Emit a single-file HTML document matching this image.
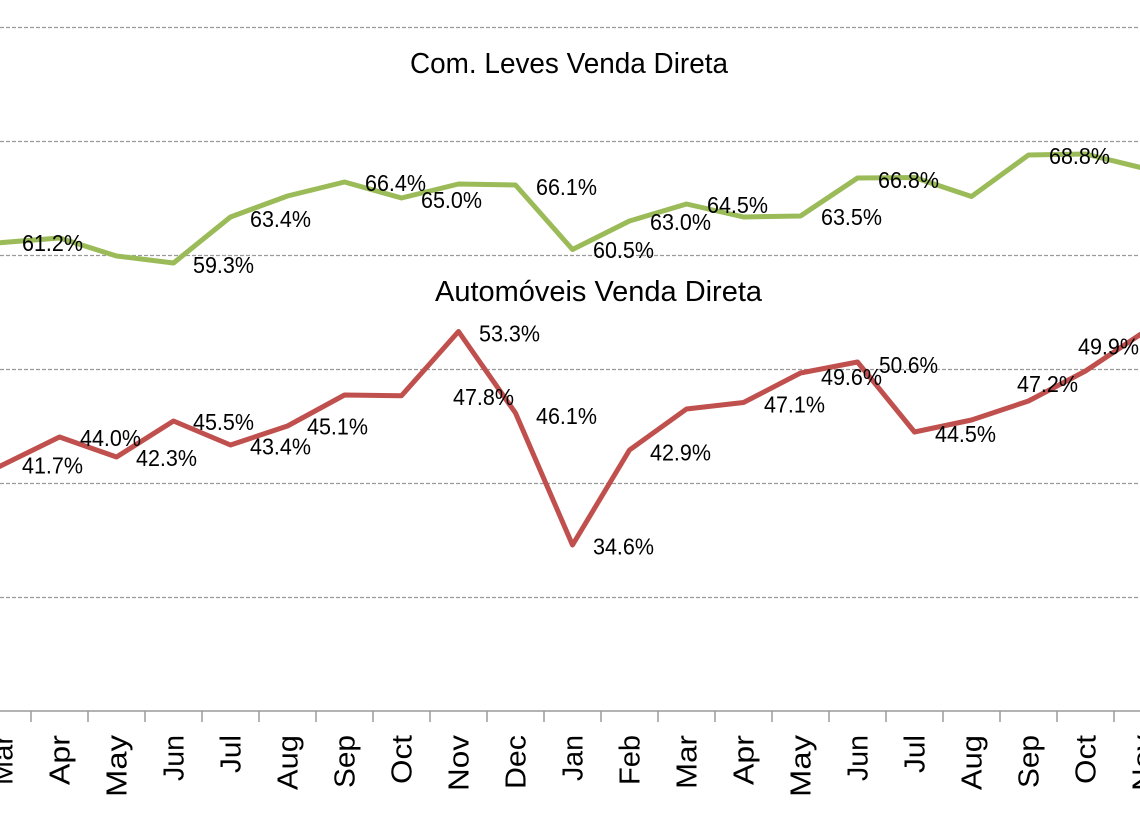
<!DOCTYPE html>
<html>
<head>
<meta charset="utf-8">
<style>
html,body{margin:0;padding:0;background:#fff;}
svg{display:block;}
text{font-family:"Liberation Sans",Arial,sans-serif;fill:#000;}
</style>
</head>
<body>
<svg width="1140" height="815" viewBox="0 0 1140 815" xmlns="http://www.w3.org/2000/svg">
  <rect width="1140" height="815" fill="#fff"/>
  <!-- gridlines -->
  <g stroke="#9a9a9a" stroke-width="1.3" stroke-dasharray="4,2" fill="none">
    <line x1="0" y1="27.5" x2="1140" y2="27.5"/>
    <line x1="0" y1="141.5" x2="1140" y2="141.5"/>
    <line x1="0" y1="255.5" x2="1140" y2="255.5"/>
    <line x1="0" y1="369.5" x2="1140" y2="369.5"/>
    <line x1="0" y1="483.5" x2="1140" y2="483.5"/>
    <line x1="0" y1="597.5" x2="1140" y2="597.5"/>
  </g>
  <!-- axis -->
  <line x1="0" y1="711" x2="1140" y2="711" stroke="#9a9a9a" stroke-width="1.5"/>
  <g stroke="#9a9a9a" stroke-width="1.5">
    <line x1="31" y1="711" x2="31" y2="722"/>
    <line x1="88" y1="711" x2="88" y2="722"/>
    <line x1="145" y1="711" x2="145" y2="722"/>
    <line x1="202" y1="711" x2="202" y2="722"/>
    <line x1="259" y1="711" x2="259" y2="722"/>
    <line x1="316" y1="711" x2="316" y2="722"/>
    <line x1="373" y1="711" x2="373" y2="722"/>
    <line x1="430" y1="711" x2="430" y2="722"/>
    <line x1="487" y1="711" x2="487" y2="722"/>
    <line x1="544" y1="711" x2="544" y2="722"/>
    <line x1="601" y1="711" x2="601" y2="722"/>
    <line x1="658" y1="711" x2="658" y2="722"/>
    <line x1="715" y1="711" x2="715" y2="722"/>
    <line x1="772" y1="711" x2="772" y2="722"/>
    <line x1="829" y1="711" x2="829" y2="722"/>
    <line x1="886" y1="711" x2="886" y2="722"/>
    <line x1="943" y1="711" x2="943" y2="722"/>
    <line x1="1000" y1="711" x2="1000" y2="722"/>
    <line x1="1057" y1="711" x2="1057" y2="722"/>
    <line x1="1114" y1="711" x2="1114" y2="722"/>
  </g>
  <!-- x labels -->
  <g font-size="29" text-anchor="end">
    <text transform="translate(12.5,735) rotate(-90)">Mar</text>
    <text transform="translate(69.5,735) rotate(-90)" textLength="50" lengthAdjust="spacingAndGlyphs">Apr</text>
    <text transform="translate(126.5,735) rotate(-90)" textLength="62" lengthAdjust="spacingAndGlyphs">May</text>
    <text transform="translate(183.5,735) rotate(-90)" textLength="46" lengthAdjust="spacingAndGlyphs">Jun</text>
    <text transform="translate(240.5,735) rotate(-90)" textLength="38" lengthAdjust="spacingAndGlyphs">Jul</text>
    <text transform="translate(297.5,735) rotate(-90)" textLength="55" lengthAdjust="spacingAndGlyphs">Aug</text>
    <text transform="translate(354.5,735) rotate(-90)" textLength="53" lengthAdjust="spacingAndGlyphs">Sep</text>
    <text transform="translate(411.5,735) rotate(-90)" textLength="49" lengthAdjust="spacingAndGlyphs">Oct</text>
    <text transform="translate(468.5,735) rotate(-90)" textLength="56" lengthAdjust="spacingAndGlyphs">Nov</text>
    <text transform="translate(525.5,735) rotate(-90)" textLength="54" lengthAdjust="spacingAndGlyphs">Dec</text>
    <text transform="translate(582.5,735) rotate(-90)" textLength="46" lengthAdjust="spacingAndGlyphs">Jan</text>
    <text transform="translate(639.5,735) rotate(-90)" textLength="50" lengthAdjust="spacingAndGlyphs">Feb</text>
    <text transform="translate(696.5,735) rotate(-90)" textLength="54" lengthAdjust="spacingAndGlyphs">Mar</text>
    <text transform="translate(753.5,735) rotate(-90)" textLength="50" lengthAdjust="spacingAndGlyphs">Apr</text>
    <text transform="translate(810.5,735) rotate(-90)" textLength="62" lengthAdjust="spacingAndGlyphs">May</text>
    <text transform="translate(867.5,735) rotate(-90)" textLength="46" lengthAdjust="spacingAndGlyphs">Jun</text>
    <text transform="translate(924.5,735) rotate(-90)" textLength="38" lengthAdjust="spacingAndGlyphs">Jul</text>
    <text transform="translate(981.5,735) rotate(-90)" textLength="55" lengthAdjust="spacingAndGlyphs">Aug</text>
    <text transform="translate(1038.5,735) rotate(-90)" textLength="53" lengthAdjust="spacingAndGlyphs">Sep</text>
    <text transform="translate(1095.5,735) rotate(-90)" textLength="49" lengthAdjust="spacingAndGlyphs">Oct</text>
    <text transform="translate(1152.5,735) rotate(-90)" textLength="56" lengthAdjust="spacingAndGlyphs">Nov</text>
  </g>
  <!-- titles -->
  <text x="410" y="73" font-size="29" textLength="318" lengthAdjust="spacingAndGlyphs">Com. Leves Venda Direta</text>
  <text x="435" y="301" font-size="29" textLength="327" lengthAdjust="spacingAndGlyphs">Automóveis Venda Direta</text>
  <!-- green series -->
  <polyline fill="none" stroke="#9BBB59" stroke-width="5" stroke-linejoin="round"
    points="-10,243.5 2.5,242.5 59.5,238 116.5,256 173.5,263 230.5,217 287.5,196 344.5,182 401.5,198 458.5,184 515.5,185 572.5,249.5 629.5,221 686.5,204 743.5,217 800.5,216 857.5,178 914.5,177.5 971.5,196.5 1028.5,155 1085.5,154 1142.5,168"/>
  <!-- red series -->
  <polyline fill="none" stroke="#C0504D" stroke-width="5" stroke-linejoin="round"
    points="-10,471 2.5,465 59.5,437 116.5,457 173.5,421 230.5,445 287.5,426 344.5,395 401.5,395.7 458.5,331.5 515.5,413 572.5,545 629.5,450 686.5,409 743.5,402.5 800.5,373 857.5,362 914.5,432 971.5,420 1028.5,401 1085.5,371 1142.5,333"/>
  <!-- green labels -->
  <g font-size="23">
    <text x="22" y="251" textLength="61" lengthAdjust="spacingAndGlyphs">61.2%</text>
    <text x="193" y="273" textLength="61" lengthAdjust="spacingAndGlyphs">59.3%</text>
    <text x="250" y="227" textLength="61" lengthAdjust="spacingAndGlyphs">63.4%</text>
    <text x="365" y="191" textLength="61" lengthAdjust="spacingAndGlyphs">66.4%</text>
    <text x="421" y="208" textLength="61" lengthAdjust="spacingAndGlyphs">65.0%</text>
    <text x="536" y="195" textLength="61" lengthAdjust="spacingAndGlyphs">66.1%</text>
    <text x="593" y="258" textLength="61" lengthAdjust="spacingAndGlyphs">60.5%</text>
    <text x="650" y="230" textLength="61" lengthAdjust="spacingAndGlyphs">63.0%</text>
    <text x="707" y="213" textLength="61" lengthAdjust="spacingAndGlyphs">64.5%</text>
    <text x="821" y="225" textLength="61" lengthAdjust="spacingAndGlyphs">63.5%</text>
    <text x="878" y="188" textLength="61" lengthAdjust="spacingAndGlyphs">66.8%</text>
    <text x="1049" y="164" textLength="61" lengthAdjust="spacingAndGlyphs">68.8%</text>
  </g>
  <!-- red labels -->
  <g font-size="23">
    <text x="22" y="473.5" textLength="61" lengthAdjust="spacingAndGlyphs">41.7%</text>
    <text x="80" y="446" textLength="61" lengthAdjust="spacingAndGlyphs">44.0%</text>
    <text x="136" y="466" textLength="61" lengthAdjust="spacingAndGlyphs">42.3%</text>
    <text x="193" y="430" textLength="61" lengthAdjust="spacingAndGlyphs">45.5%</text>
    <text x="250" y="454.5" textLength="61" lengthAdjust="spacingAndGlyphs">43.4%</text>
    <text x="307" y="434.5" textLength="61" lengthAdjust="spacingAndGlyphs">45.1%</text>
    <text x="479" y="341.5" textLength="61" lengthAdjust="spacingAndGlyphs">53.3%</text>
    <text x="453" y="405" textLength="61" lengthAdjust="spacingAndGlyphs">47.8%</text>
    <text x="536" y="424" textLength="61" lengthAdjust="spacingAndGlyphs">46.1%</text>
    <text x="593" y="554.5" textLength="61" lengthAdjust="spacingAndGlyphs">34.6%</text>
    <text x="650" y="460.5" textLength="61" lengthAdjust="spacingAndGlyphs">42.9%</text>
    <text x="764" y="412.5" textLength="61" lengthAdjust="spacingAndGlyphs">47.1%</text>
    <text x="821" y="385" textLength="61" lengthAdjust="spacingAndGlyphs">49.6%</text>
    <text x="879" y="373" textLength="59" lengthAdjust="spacingAndGlyphs">50.6%</text>
    <text x="935" y="442" textLength="61" lengthAdjust="spacingAndGlyphs">44.5%</text>
    <text x="1017" y="392" textLength="61" lengthAdjust="spacingAndGlyphs">47.2%</text>
    <text x="1078" y="354.5" textLength="61" lengthAdjust="spacingAndGlyphs">49.9%</text>
  </g>
</svg>
</body>
</html>
